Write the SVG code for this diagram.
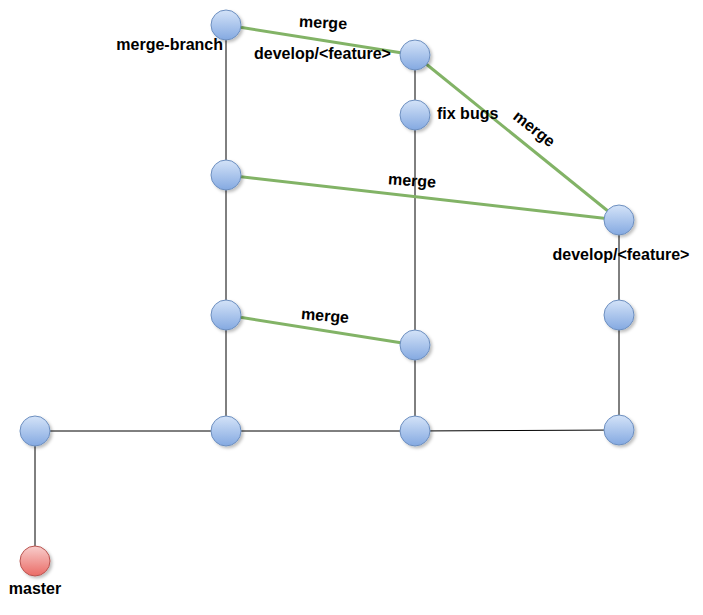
<svg xmlns="http://www.w3.org/2000/svg" width="703" height="615" viewBox="0 0 703 615">
<defs>
<linearGradient id="gb" x1="0" y1="0" x2="0" y2="1">
<stop offset="0" stop-color="#d4e3f8"/>
<stop offset="1" stop-color="#84a9e1"/>
</linearGradient>
<linearGradient id="gr" x1="0" y1="0" x2="0" y2="1">
<stop offset="0" stop-color="#f8cecc"/>
<stop offset="1" stop-color="#ea6b66"/>
</linearGradient>
<filter id="sh" x="-30%" y="-30%" width="170%" height="170%">
<feDropShadow dx="2" dy="2" stdDeviation="1.5" flood-color="#000" flood-opacity="0.25"/>
</filter>
</defs>
<style>
.n{fill:url(#gb);stroke:#6c8ebf;stroke-width:1;filter:url(#sh)}
.r{fill:url(#gr);stroke:#b85450;stroke-width:1;filter:url(#sh)}
.l{stroke:#000;stroke-width:1;fill:none}
.m{stroke:#82b366;stroke-width:3;fill:none}
text{font-family:"Liberation Sans",Arial,sans-serif;font-weight:bold;font-size:16px;fill:#000}
</style>
<rect width="703" height="615" fill="#fff"/>
<g id="connectors">
<line class="l" x1="226" y1="25" x2="226" y2="175"/>
<line class="l" x1="226" y1="175" x2="226" y2="315"/>
<line class="l" x1="226" y1="315" x2="226" y2="431"/>
<line class="l" x1="415" y1="55" x2="415" y2="115"/>
<line class="l" x1="415" y1="115" x2="415" y2="345"/>
<line class="l" x1="415" y1="345" x2="415" y2="431"/>
<line class="l" x1="619" y1="220" x2="619" y2="315"/>
<line class="l" x1="619" y1="315" x2="619" y2="430"/>
<line class="l" x1="35" y1="431" x2="226" y2="431"/>
<line class="l" x1="226" y1="431" x2="415" y2="431"/>
<line class="l" x1="415" y1="431" x2="619" y2="430"/>
<line class="l" x1="35" y1="431" x2="35" y2="561"/>
<line class="m" x1="226" y1="25" x2="415" y2="55"/>
<line class="m" x1="415" y1="55" x2="619" y2="220"/>
<line class="m" x1="226" y1="175" x2="619" y2="220"/>
<line class="m" x1="226" y1="315" x2="415" y2="345"/>
</g>
<g id="labels">
<text x="323" y="28" text-anchor="middle" transform="rotate(3 323 24)">merge</text>
<text x="254" y="59">develop/&lt;feature&gt;</text>
<text x="534" y="134" text-anchor="middle" transform="rotate(38 534 129)">merge</text>
<text x="412" y="186" text-anchor="middle" transform="rotate(4 412 181)">merge</text>
<text x="325" y="321" text-anchor="middle" transform="rotate(5 325 316)">merge</text>
</g>
<g id="node-merge-branch"><circle class="n" cx="226" cy="25" r="15"/><text x="223" y="50" text-anchor="end">merge-branch</text></g>
<g id="node-develop-1"><circle class="n" cx="415" cy="55" r="15"/></g>
<g id="node-fix-bugs"><circle class="n" cx="415" cy="115" r="15"/><text x="437" y="119">fix bugs</text></g>
<g id="node-d"><circle class="n" cx="226" cy="175" r="15"/></g>
<g id="node-develop-2"><circle class="n" cx="619" cy="220" r="15"/><text x="621" y="260" text-anchor="middle">develop/&lt;feature&gt;</text></g>
<g id="node-f"><circle class="n" cx="226" cy="315" r="15"/></g>
<g id="node-g"><circle class="n" cx="415" cy="345" r="15"/></g>
<g id="node-h"><circle class="n" cx="619" cy="315" r="15"/></g>
<g id="node-i"><circle class="n" cx="35" cy="431" r="15"/></g>
<g id="node-j"><circle class="n" cx="226" cy="431" r="15"/></g>
<g id="node-k"><circle class="n" cx="415" cy="431" r="15"/></g>
<g id="node-l"><circle class="n" cx="619" cy="430" r="15"/></g>
<g id="node-master"><circle class="r" cx="35" cy="561" r="15"/><text x="35" y="594" text-anchor="middle">master</text></g>
</svg>
